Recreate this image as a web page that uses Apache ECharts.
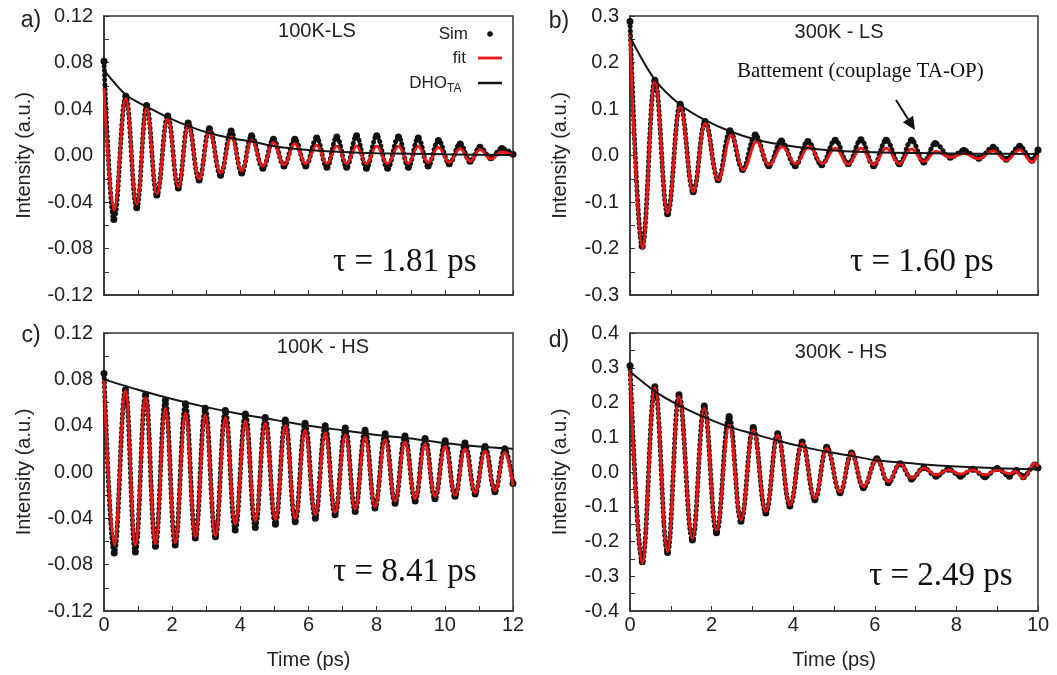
<!DOCTYPE html>
<html><head><meta charset="utf-8">
<script src="https://cdn.jsdelivr.net/npm/echarts@6/dist/echarts.min.js"></script>
<style>html,body{margin:0;padding:0;background:#fff}#c{width:1057px;height:675px}</style>
</head><body><div id="c"></div>
<script>
// ---------- data (time in ps, intensity in a.u.) ----------
// Panel a) 100K-LS
const simA = [[0,0.081],[0.29,-0.055],[0.64,0.051],[0.96,-0.045],[1.25,0.043],[1.55,-0.034],[1.87,0.034],[2.18,-0.028],[2.47,0.028],[2.79,-0.021],[3.09,0.023],[3.42,-0.017],[3.73,0.021],[4.04,-0.015],[4.33,0.017],[4.66,-0.011],[4.97,0.014],[5.28,-0.009],[5.6,0.014],[5.92,-0.009],[6.24,0.015],[6.54,-0.010],[6.83,0.016],[7.12,-0.010],[7.41,0.017],[7.7,-0.011],[8.0,0.017],[8.32,-0.011],[8.64,0.016],[8.93,-0.010],[9.22,0.015],[9.51,-0.009],[9.81,0.013],[10.13,-0.007],[10.45,0.010],[10.74,-0.005],[11.03,0.007],[11.35,-0.002],[11.67,0.006],[12,0.001]];
const fitA = [[0,0.058],[0.29,-0.047],[0.64,0.049],[0.96,-0.042],[1.25,0.041],[1.55,-0.033],[1.87,0.032],[2.18,-0.027],[2.47,0.026],[2.79,-0.020],[3.09,0.020],[3.42,-0.015],[3.73,0.016],[4.04,-0.013],[4.33,0.013],[4.66,-0.009],[4.97,0.011],[5.28,-0.008],[5.6,0.010],[5.92,-0.007],[6.24,0.009],[6.54,-0.007],[6.83,0.008],[7.12,-0.007],[7.41,0.008],[7.7,-0.007],[8.0,0.008],[8.32,-0.007],[8.64,0.008],[8.93,-0.007],[9.22,0.008],[9.51,-0.006],[9.81,0.007],[10.13,-0.006],[10.45,0.006],[10.74,-0.005],[11.03,0.005],[11.35,-0.003],[11.67,0.003],[12,0.000]];
const dhoA = [[0,0.0735],[0.65,0.052],[1.25,0.042],[2,0.031],[2.5,0.025],[3,0.020],[3.7,0.015],[4.33,0.012],[5,0.008],[5.9,0.005],[7,0.003],[8,0.002],[10,0.001],[12,0.0005]];

// Panel b) 300K - LS
const simB = [[0,0.288],[0.30,-0.195],[0.61,0.162],[0.92,-0.125],[1.23,0.110],[1.55,-0.078],[1.84,0.073],[2.16,-0.052],[2.45,0.053],[2.76,-0.030],[3.07,0.044],[3.40,-0.022],[3.71,0.031],[4.05,-0.022],[4.36,0.030],[4.70,-0.020],[5.03,0.033],[5.35,-0.018],[5.66,0.034],[5.97,-0.022],[6.28,0.033],[6.6,-0.018],[6.9,0.033],[7.2,-0.014],[7.48,0.026],[7.85,-0.004],[8.18,0.011],[8.55,-0.006],[8.9,0.018],[9.22,-0.008],[9.55,0.020],[9.85,-0.010],[10,0.012]];
const fitB = [[0,0.259],[0.30,-0.200],[0.61,0.159],[0.92,-0.124],[1.23,0.105],[1.55,-0.078],[1.84,0.069],[2.16,-0.053],[2.48,0.044],[2.78,-0.031],[3.10,0.030],[3.41,-0.020],[3.73,0.019],[4.06,-0.018],[4.39,0.019],[4.72,-0.018],[5.03,0.016],[5.35,-0.019],[5.66,0.016],[5.97,-0.020],[6.28,0.016],[6.6,-0.018],[6.9,0.014],[7.2,-0.013],[7.5,0.009],[7.85,-0.004],[8.18,0.004],[8.55,-0.007],[8.9,0.010],[9.22,-0.011],[9.55,0.012],[9.85,-0.014],[10,0.002]];
const dhoB = [[0,0.255],[0.61,0.163],[1.23,0.109],[1.84,0.076],[2.48,0.051],[3.1,0.034],[3.73,0.023],[4.4,0.015],[5,0.011],[6,0.007],[7.35,0.005],[8.5,0.004],[10,0.003]];

// Panel c) 100K - HS
const simC = [[0,0.085],[0.30,-0.070],[0.63,0.071],[0.92,-0.069],[1.22,0.067],[1.51,-0.064],[1.80,0.062],[2.09,-0.063],[2.39,0.059],[2.68,-0.057],[2.97,0.055],[3.27,-0.056],[3.56,0.053],[3.85,-0.050],[4.15,0.050],[4.44,-0.048],[4.73,0.047],[5.03,-0.045],[5.32,0.045],[5.61,-0.043],[5.90,0.042],[6.20,-0.040],[6.49,0.040],[6.78,-0.037],[7.08,0.038],[7.37,-0.034],[7.66,0.036],[7.95,-0.031],[8.25,0.033],[8.54,-0.027],[8.83,0.031],[9.13,-0.025],[9.42,0.029],[9.71,-0.023],[10.01,0.027],[10.30,-0.021],[10.59,0.025],[10.89,-0.019],[11.18,0.022],[11.47,-0.017],[11.76,0.020],[12,-0.010]];
const fitC = [[0,0.079],[0.30,-0.063],[0.63,0.070],[0.92,-0.063],[1.22,0.064],[1.51,-0.062],[1.80,0.055],[2.09,-0.061],[2.39,0.051],[2.68,-0.056],[2.97,0.049],[3.27,-0.055],[3.56,0.047],[3.85,-0.045],[4.15,0.044],[4.44,-0.042],[4.73,0.042],[5.03,-0.041],[5.32,0.040],[5.61,-0.040],[5.90,0.036],[6.20,-0.037],[6.49,0.034],[6.78,-0.035],[7.08,0.032],[7.37,-0.032],[7.66,0.030],[7.95,-0.030],[8.25,0.028],[8.54,-0.025],[8.83,0.026],[9.13,-0.023],[9.42,0.024],[9.71,-0.021],[10.01,0.022],[10.30,-0.020],[10.59,0.020],[10.89,-0.018],[11.18,0.018],[11.47,-0.016],[11.76,0.017],[12,-0.012]];
const dhoC = [[0,0.080],[1,0.071],[2,0.063],[3,0.056],[4,0.050],[5,0.045],[6,0.040],[7,0.036],[8,0.032],[9,0.029],[10,0.025],[11,0.022],[12,0.020]];

// Panel d) 300K - HS
const simD = [[0,0.306],[0.30,-0.258],[0.61,0.245],[0.92,-0.232],[1.20,0.222],[1.53,-0.196],[1.82,0.190],[2.12,-0.175],[2.43,0.160],[2.72,-0.142],[3.02,0.128],[3.33,-0.118],[3.62,0.110],[3.92,-0.098],[4.22,0.086],[4.53,-0.080],[4.82,0.071],[5.15,-0.060],[5.43,0.055],[5.72,-0.045],[6.05,0.038],[6.33,-0.031],[6.62,0.024],[6.9,-0.020],[7.2,0.012],[7.5,-0.012],[7.8,0.008],[8.1,-0.012],[8.4,0.008],[8.7,-0.014],[9.0,0.010],[9.3,-0.012],[9.47,0.004],[9.64,-0.014],[9.92,0.020],[10,0.012]];
const fitD = [[0,0.294],[0.30,-0.263],[0.61,0.243],[0.92,-0.229],[1.20,0.217],[1.53,-0.191],[1.82,0.183],[2.12,-0.167],[2.43,0.135],[2.72,-0.138],[3.02,0.121],[3.33,-0.114],[3.62,0.106],[3.92,-0.095],[4.22,0.082],[4.53,-0.076],[4.82,0.068],[5.15,-0.057],[5.43,0.054],[5.72,-0.042],[6.05,0.036],[6.33,-0.028],[6.62,0.025],[6.9,-0.018],[7.2,0.011],[7.5,-0.008],[7.8,0.006],[8.1,-0.006],[8.4,0.006],[8.7,-0.008],[9.0,0.006],[9.3,-0.005],[9.45,0.002],[9.64,-0.018],[9.92,0.025],[10,0.015]];
const dhoD = [[0,0.289],[0.61,0.232],[1.2,0.192],[1.82,0.158],[2.43,0.130],[3.02,0.110],[3.62,0.090],[4.22,0.073],[4.82,0.058],[5.5,0.045],[6,0.034],[7,0.024],[8,0.016],[9,0.011],[10,0.007]];

// axis settings
const panelLetters = ['a)','b)','c)','d)'];
const panelTitles = ['100K-LS','300K - LS','100K - HS','300K - HS'];
const tauLabels = ['\u03C4 = 1.81 ps','\u03C4 = 1.60 ps','\u03C4 = 8.41 ps','\u03C4 = 2.49 ps'];
const xMax = [12, 10, 12, 10];
const yMax = [0.12, 0.3, 0.12, 0.4];
const yStep = [0.04, 0.1, 0.04, 0.1];
const yDecimals = [2, 1, 2, 1];
const annotationText = 'Battement (couplage TA-OP)';
const legendNames = ['Sim', 'fit', 'DHO_TA'];

// ---------- chart ----------
const SANS = 'Liberation Sans';
const grids = [
  {left:104, top:16, width:409, height:279},
  {left:630, top:16, width:408, height:279},
  {left:104, top:333, width:409, height:278},
  {left:630, top:333, width:408, height:278}
];
const nameGaps = [70, 60, 70, 60];
const axisColor = '#333';
const textColor = '#222';

const xAxes = grids.map((g, i) => ({
  gridIndex: i, type: 'value', min: 0, max: xMax[i], interval: 2,
  axisLine: {show: true, onZero: false, lineStyle: {color: axisColor, width: 1.5}},
  axisTick: {show: true, inside: true, length: 5, lineStyle: {color: axisColor, width: 1}},
  minorTick: {show: true, splitNumber: 2, length: 5, lineStyle: {color: axisColor, width: 1}},
  splitLine: {show: false}, minorSplitLine: {show: false},
  axisLabel: {show: i >= 2, fontFamily: SANS, fontSize: 20, color: textColor, margin: 4},
  name: i >= 2 ? 'Time (ps)' : '', nameLocation: 'middle', nameGap: 39,
  nameTextStyle: {fontFamily: SANS, fontSize: 20, color: textColor}
}));
const yAxes = grids.map((g, i) => ({
  gridIndex: i, type: 'value', min: -yMax[i], max: yMax[i], interval: yStep[i],
  axisLine: {show: true, onZero: false, lineStyle: {color: axisColor, width: 1.5}},
  axisTick: {show: true, inside: true, length: 5, lineStyle: {color: axisColor, width: 1}},
  minorTick: {show: true, splitNumber: 2, length: 5, lineStyle: {color: axisColor, width: 1}},
  splitLine: {show: false}, minorSplitLine: {show: false},
  axisLabel: {fontFamily: SANS, fontSize: 20, color: textColor, margin: 11,
    formatter: v => (Math.abs(v) < 1e-9 ? 0 : v).toFixed(yDecimals[i])},
  name: 'Intensity (a.u.)', nameLocation: 'middle', nameGap: nameGaps[i],
  nameTextStyle: {fontFamily: SANS, fontSize: 20, color: textColor}
}));

const panelData = [[simA, fitA, dhoA], [simB, fitB, dhoB], [simC, fitC, dhoC], [simD, fitD, dhoD]];
const series = [];
panelData.forEach((pd, i) => {
  series.push({
    name: legendNames[0], type: 'line', xAxisIndex: i, yAxisIndex: i, data: pd[0],
    smooth: 0.4, smoothMonotone: 'x', showSymbol: true, symbol: 'circle', symbolSize: 7,
    itemStyle: {color: '#111'},
    lineStyle: {color: '#111', width: 5, type: [0.1, 4.6], cap: 'round'}, z: 2, silent: true
  });
  series.push({
    name: legendNames[1], type: 'line', xAxisIndex: i, yAxisIndex: i, data: pd[1],
    smooth: 0.4, smoothMonotone: 'x', showSymbol: false,
    lineStyle: {color: '#f01616', width: 2.8}, z: 3, silent: true
  });
  series.push({
    name: legendNames[2], type: 'line', xAxisIndex: i, yAxisIndex: i, data: pd[2],
    smooth: 0.3, showSymbol: false,
    lineStyle: {color: '#151515', width: 2}, z: 4, silent: true
  });
});

function txt(x, y, text, font, align, vAlign, extra) {
  return Object.assign({type: 'text', x: x, y: y, z: 100,
    style: Object.assign({text: text, font: font, fill: textColor, align: align || 'left', verticalAlign: vAlign || 'middle'}, extra || {})});
}
const graphic = [
  txt(31, 21, panelLetters[0], '23px "Liberation Sans"', 'center'),
  txt(559, 22, panelLetters[1], '23px "Liberation Sans"', 'center'),
  txt(31, 336, panelLetters[2], '23px "Liberation Sans"', 'center'),
  txt(559, 341, panelLetters[3], '23px "Liberation Sans"', 'center'),
  txt(317, 31, panelTitles[0], '20px "Liberation Sans"', 'center'),
  txt(839, 32, panelTitles[1], '20px "Liberation Sans"', 'center'),
  txt(323, 347, panelTitles[2], '20px "Liberation Sans"', 'center'),
  txt(841, 352, panelTitles[3], '20px "Liberation Sans"', 'center'),
  txt(333, 262, tauLabels[0], '33px "Liberation Serif"', 'left', 'middle', {fill: '#111'}),
  txt(850, 262, tauLabels[1], '33px "Liberation Serif"', 'left', 'middle', {fill: '#111'}),
  txt(333, 572, tauLabels[2], '33px "Liberation Serif"', 'left', 'middle', {fill: '#111'}),
  txt(869, 576, tauLabels[3], '33px "Liberation Serif"', 'left', 'middle', {fill: '#111'}),
  txt(737, 71, annotationText, '21px "Liberation Serif"', 'left', 'middle', {fill: '#111'}),
  // arrow
  {type: 'line', z: 100, shape: {x1: 896, y1: 100, x2: 908, y2: 119}, style: {stroke: '#111', lineWidth: 2}},
  {type: 'polygon', z: 100, shape: {points: [[915, 130], [902.9, 122.2], [913.1, 115.8]]}, style: {fill: '#111'}},
  // legend (panel a)
  txt(468, 34, legendNames[0], '17px "Liberation Sans"', 'right'),
  {type: 'circle', z: 100, shape: {cx: 490, cy: 34, r: 2.8}, style: {fill: '#111'}},
  txt(466, 58, legendNames[1], '17px "Liberation Sans"', 'right'),
  {type: 'line', z: 100, shape: {x1: 478, y1: 58, x2: 502, y2: 58}, style: {stroke: '#f01616', lineWidth: 2.8}},
  txt(447, 83, 'DHO', '17px "Liberation Sans"', 'right'),
  txt(447, 89, 'TA', '12px "Liberation Sans"', 'left'),
  {type: 'line', z: 100, shape: {x1: 478, y1: 83, x2: 502, y2: 83}, style: {stroke: '#151515', lineWidth: 2.5}}
];

const chart = echarts.init(document.getElementById('c'), null, {renderer: 'canvas'});
chart.setOption({
  animation: false,
  backgroundColor: '#fff',
  grid: grids.map(g => Object.assign({show: true, borderColor: axisColor, borderWidth: 1.5, backgroundColor: 'transparent', containLabel: false}, g)),
  xAxis: xAxes,
  yAxis: yAxes,
  series: series,
  graphic: graphic
});
</script>
</body></html>
